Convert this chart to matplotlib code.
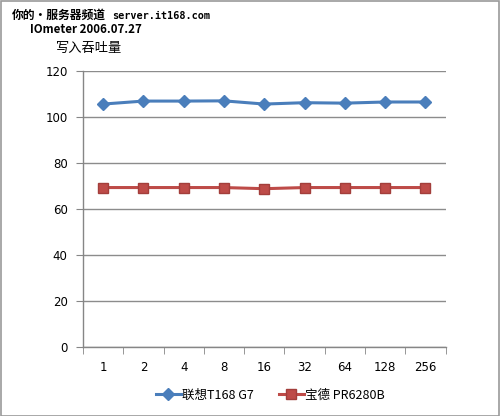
import matplotlib
matplotlib.use("Agg")
import matplotlib.pyplot as plt
from matplotlib.patches import Rectangle

plt.rcParams['font.family'] = ['Noto Sans CJK SC', 'DejaVu Sans']

categories = ["1", "2", "4", "8", "16", "32", "64", "128", "256"]
lenovo = [105.5, 106.8, 106.8, 106.9, 105.5, 106.1, 105.9, 106.4, 106.4]
powerleader = [69.2, 69.2, 69.2, 69.2, 68.7, 69.2, 69.2, 69.2, 69.2]
series_names = ["联想T168 G7", "宝德 PR6280B"]
y_ticks = [0, 20, 40, 60, 80, 100, 120]

fig = plt.figure(figsize=(5.0, 4.16), dpi=100)
ax = fig.add_axes([0.166, 0.1666, 0.725, 0.6634])

x = list(range(len(categories)))
ax.plot(x, lenovo, color="#4A7EBB", lw=2.2, marker="D", markersize=6,
        markerfacecolor="#4A7EBB", markeredgecolor="#4A7EBB", label=series_names[0], zorder=3)
ax.plot(x, powerleader, color="#BE4B48", lw=2.2, marker="s", markersize=7,
        markerfacecolor="#BE4B48", markeredgecolor="#A33E3B", label=series_names[1], zorder=3)

ax.set_xlim(-0.5, len(categories) - 0.5)
ax.set_ylim(0, 120)
ax.set_yticks(y_ticks)
ax.set_yticklabels([str(v) for v in y_ticks], fontsize=8.5, family=['DejaVu Sans'])
ax.set_xticks(x)
ax.set_xticklabels(categories, fontsize=8.5, family=['DejaVu Sans'])
ax.tick_params(axis='x', which='major', length=0, pad=10)
ax.set_xticks([i - 0.5 for i in range(len(categories) + 1)], minor=True)
ax.tick_params(axis='x', which='minor', length=5, color="#868686", direction='out')
ax.tick_params(axis='y', length=5, color="#868686", direction='out', pad=6)

ax.grid(axis='y', color="#8c8c8c", lw=1)
ax.set_axisbelow(True)
for s in ['top', 'right']:
    ax.spines[s].set_visible(False)
for s in ['left', 'bottom']:
    ax.spines[s].set_color("#868686")
    ax.spines[s].set_linewidth(1)

leg = fig.legend(loc='center', bbox_to_anchor=(0.54, 0.05), ncol=2, frameon=False,
                 fontsize=9, handlelength=2.0, columnspacing=2.0, handletextpad=0.1)

fig.text(0.024, 0.964, "你的·服务器频道", fontsize=8.5, fontweight='bold',
         ha='left', va='center', family=['Noto Sans CJK SC', 'DejaVu Sans'])
fig.text(0.224, 0.962, "server.it168.com", fontsize=7.3, fontweight='bold',
         ha='left', va='center', family=['DejaVu Sans Mono'])
fig.text(0.06, 0.928, "IOmeter 2006.07.27", fontsize=8.3, fontweight='bold', ha='left', va='center')
fig.text(0.112, 0.884, "写入吞吐量", fontsize=9.5, ha='left', va='center')

fig.patches.append(Rectangle((0.001, 0.001), 0.997, 0.997, transform=fig.transFigure,
                             fill=False, edgecolor="#9a9a9a", lw=1.2))

fig.savefig("out.png", dpi=100)
